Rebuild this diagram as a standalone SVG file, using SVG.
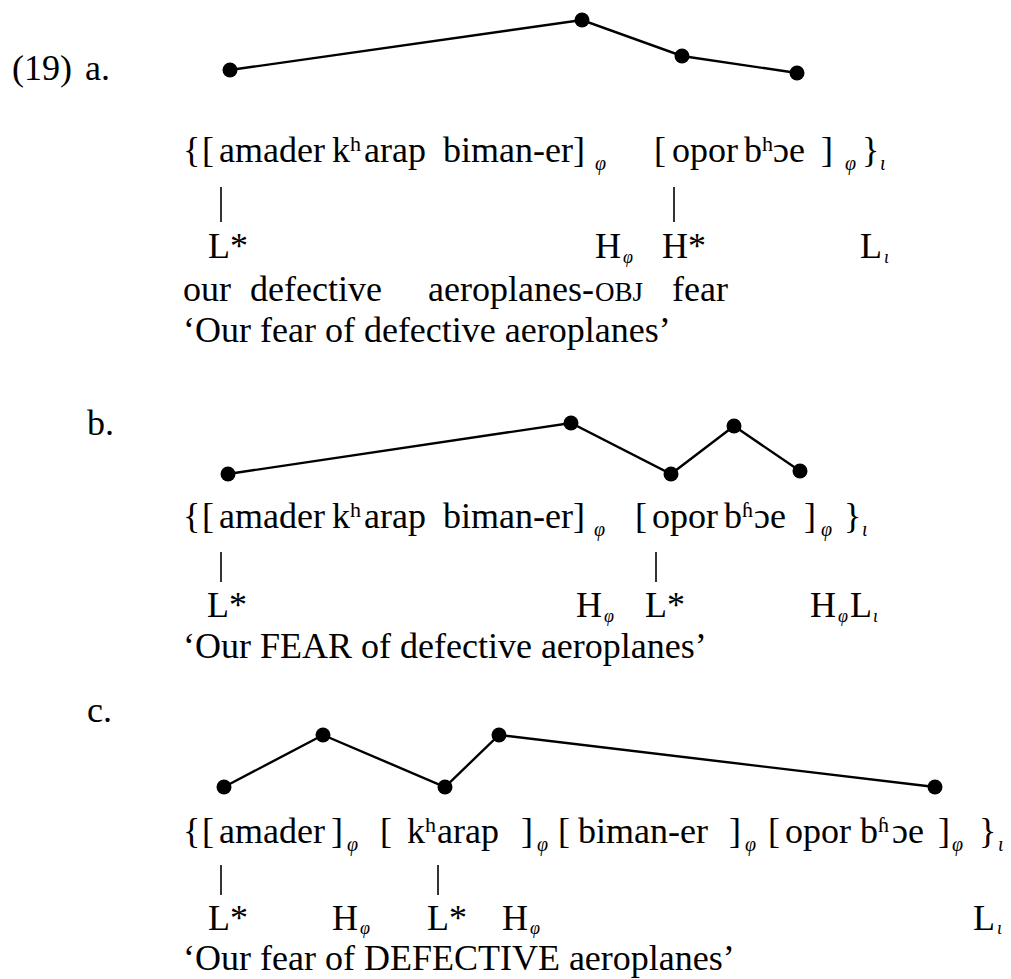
<svg xmlns="http://www.w3.org/2000/svg" width="1011" height="979" viewBox="0 0 1011 979">
<style>
text{font-family:"Liberation Serif","Times New Roman","DejaVu Serif",serif;fill:#000}
.t{font-size:36px}
.sup{font-size:22px}
.sub{font-size:20px;font-style:italic}
.sl{font-size:18px;font-style:italic}
.sc{font-size:27px}
.bar{stroke:#000;stroke-width:1.6}
.contour{fill:none;stroke:#000;stroke-width:2.4;stroke-linejoin:miter}
.dot{fill:#000}
</style>
<rect width="1011" height="979" fill="#fff"/>
<g id="labels">
<text class="t" x="12" y="80">(19)</text>
<text class="t" x="85" y="80">a.</text>
<text class="t" x="87" y="435">b.</text>
<text class="t" x="87" y="722">c.</text>
</g>
<g id="connectors">
<polyline class="contour" points="230,70 582,20 682,56 797,73"/>
<polyline class="contour" points="228,474 571,423 671,474 734,426 800,471"/>
<polyline class="contour" points="224,787 323,735 445,787 499,735 935,787"/>
<line class="bar" x1="221" y1="187" x2="221" y2="222"/>
<line class="bar" x1="674" y1="187" x2="674" y2="222"/>
<line class="bar" x1="221" y1="552" x2="221" y2="582"/>
<line class="bar" x1="656" y1="552" x2="656" y2="582"/>
<line class="bar" x1="221" y1="865" x2="221" y2="895"/>
<line class="bar" x1="438" y1="865" x2="438" y2="895"/>
</g>
<g id="dots-a">
<circle class="dot" cx="230" cy="70" r="7.5"/>
<circle class="dot" cx="582" cy="20" r="7.5"/>
<circle class="dot" cx="682" cy="56" r="7.5"/>
<circle class="dot" cx="797" cy="73" r="7.5"/>
</g>
<g id="dots-b">
<circle class="dot" cx="228" cy="474" r="7.5"/>
<circle class="dot" cx="571" cy="423" r="7.5"/>
<circle class="dot" cx="671" cy="474" r="7.5"/>
<circle class="dot" cx="734" cy="426" r="7.5"/>
<circle class="dot" cx="800" cy="471" r="7.5"/>
</g>
<g id="dots-c">
<circle class="dot" cx="224" cy="787" r="7.5"/>
<circle class="dot" cx="323" cy="735" r="7.5"/>
<circle class="dot" cx="445" cy="787" r="7.5"/>
<circle class="dot" cx="499" cy="735" r="7.5"/>
<circle class="dot" cx="935" cy="787" r="7.5"/>
</g>
<g id="example-a">
<text class="t"><tspan x="183" y="162">{</tspan><tspan x="202" y="162">[</tspan><tspan x="219" y="162">amader</tspan><tspan x="332" y="162">k</tspan><tspan class="sup" x="350" y="151">h</tspan><tspan x="364" y="162">arap</tspan><tspan x="443" y="162">biman-er]</tspan><tspan class="sub" x="595" y="170">φ</tspan><tspan x="654" y="162">[</tspan><tspan x="672" y="162">opor</tspan><tspan x="744" y="162">b</tspan><tspan class="sup" x="762" y="151">h</tspan><tspan x="773" y="162">ɔe</tspan><tspan x="821" y="162">]</tspan><tspan class="sub" x="845" y="170">φ</tspan><tspan x="862" y="162">}</tspan><tspan class="sub" x="880" y="170">ι</tspan></text>
<text class="t"><tspan x="208" y="258">L*</tspan><tspan x="595" y="258">H</tspan><tspan class="sl" x="623" y="263">φ</tspan><tspan x="662" y="258">H*</tspan><tspan x="860" y="258">L</tspan><tspan class="sl" x="884" y="263">ι</tspan></text>
<text class="t"><tspan x="183" y="301">our</tspan><tspan x="250" y="301">defective</tspan><tspan x="428" y="301">aeroplanes-</tspan><tspan class="sc" x="595" y="301">OBJ</tspan><tspan x="672" y="301">fear</tspan></text>
<text class="t" x="183" y="342">‘Our fear of defective aeroplanes’</text>
</g>
<g id="example-b">
<text class="t"><tspan x="183" y="528">{</tspan><tspan x="202" y="528">[</tspan><tspan x="219" y="528">amader</tspan><tspan x="332" y="528">k</tspan><tspan class="sup" x="350" y="517">h</tspan><tspan x="364" y="528">arap</tspan><tspan x="443" y="528">biman-er]</tspan><tspan class="sub" x="594" y="536">φ</tspan><tspan x="635" y="528">[</tspan><tspan x="652" y="528">opor</tspan><tspan x="724" y="528">b</tspan><tspan class="sup" x="742" y="517">ɦ</tspan><tspan x="754" y="528">ɔe</tspan><tspan x="804" y="528">]</tspan><tspan class="sub" x="821" y="536">φ</tspan><tspan x="844" y="528">}</tspan><tspan class="sub" x="862" y="536">ι</tspan></text>
<text class="t"><tspan x="207" y="617">L*</tspan><tspan x="576" y="617">H</tspan><tspan class="sl" x="604" y="622">φ</tspan><tspan x="645" y="617">L*</tspan><tspan x="810" y="617">H</tspan><tspan class="sl" x="838" y="622">φ</tspan><tspan x="850" y="617">L</tspan><tspan class="sl" x="873" y="622">ι</tspan></text>
<text class="t" x="183" y="658">‘Our FEAR of defective aeroplanes’</text>
</g>
<g id="example-c">
<text class="t"><tspan x="183" y="843">{</tspan><tspan x="202" y="843">[</tspan><tspan x="219" y="843">amader</tspan><tspan x="331" y="843">]</tspan><tspan class="sub" x="347" y="851">φ</tspan><tspan x="380" y="843">[</tspan><tspan x="407" y="843">k</tspan><tspan class="sup" x="425" y="832">h</tspan><tspan x="437" y="843">arap</tspan><tspan x="521" y="843">]</tspan><tspan class="sub" x="537" y="851">φ</tspan><tspan x="558" y="843">[</tspan><tspan x="578" y="843">biman-er</tspan><tspan x="729" y="843">]</tspan><tspan class="sub" x="745" y="851">φ</tspan><tspan x="768" y="843">[</tspan><tspan x="785" y="843">opor</tspan><tspan x="860" y="843">b</tspan><tspan class="sup" x="878" y="832">ɦ</tspan><tspan x="892" y="843">ɔe</tspan><tspan x="938" y="843">]</tspan><tspan class="sub" x="952" y="851">φ</tspan><tspan x="979" y="843">}</tspan><tspan class="sub" x="998" y="851">ι</tspan></text>
<text class="t"><tspan x="208" y="930">L*</tspan><tspan x="332" y="930">H</tspan><tspan class="sl" x="360" y="934">φ</tspan><tspan x="427" y="930">L*</tspan><tspan x="502" y="930">H</tspan><tspan class="sl" x="530" y="934">φ</tspan><tspan x="973" y="930">L</tspan><tspan class="sl" x="997" y="934">ι</tspan></text>
<text class="t" x="183" y="970">‘Our fear of DEFECTIVE aeroplanes’</text>
</g>
</svg>
